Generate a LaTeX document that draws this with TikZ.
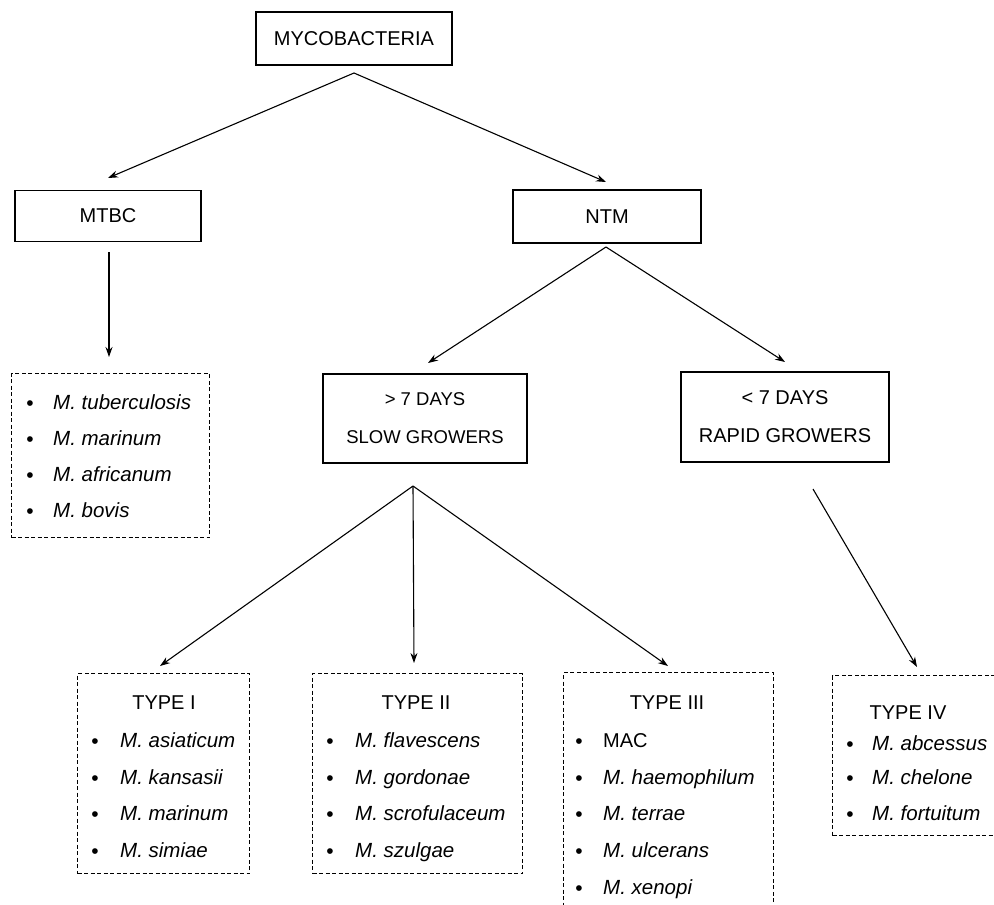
\documentclass[tikz,border=0pt]{standalone}
\usepackage{fontspec}
\setmainfont{Liberation Sans}
\usetikzlibrary{arrows.meta}
\newcommand\itm[5]{%
  \node[dotmark, anchor=base] (#1b) at (#2,#4+8.5) {•};
  \node[itemtext, anchor=base west] (#1) at (#3,#4+7.2) {#5};}
\begin{document}
\begin{tikzpicture}[x=1pt,y=-1pt,
  solidbox/.style={draw, line width=1.3pt, inner sep=0pt, align=center,
    font=\fontsize{20}{38}\selectfont},
  dashbox/.style={draw, line width=1.2pt, dash pattern=on 4pt off 2.5pt, inner sep=0pt},
  lbl/.style={font=\fontsize{20}{24}\selectfont, inner sep=0pt},
  itemtext/.style={font=\fontsize{20.5}{24}\selectfont\itshape, inner sep=0pt},
  dotmark/.style={font=\fontsize{21}{24}\selectfont, inner sep=0pt},
  conn/.style={line width=1.1pt, -{Stealth[length=10pt,width=7pt]}}]
\useasboundingbox (0,0) rectangle (994,905);
\clip (0,0) rectangle (994,905);
\fill[white] (0,0) rectangle (994,905);

% solid boxes
\node[solidbox, minimum width=196pt, minimum height=53pt] (myco) at (354,38.5) {MYCOBACTERIA};
\node[solidbox, minimum width=186pt, minimum height=51pt] (mtbc) at (108,216) {MTBC};
\node[solidbox, minimum width=188pt, minimum height=53pt] (ntm) at (607,216.5) {NTM};
\node[solidbox, minimum width=204pt, minimum height=89pt,
  font=\fontsize{18.5}{38}\selectfont] (slow) at (425,418.5) {> 7 DAYS\\SLOW GROWERS};
\node[solidbox, minimum width=208pt, minimum height=90pt] (rapid) at (785,417) {< 7 DAYS\\RAPID GROWERS};

% dashed boxes
\node[dashbox, minimum width=198pt, minimum height=164pt, anchor=north west] (mtbclist) at (11,373) {};
\node[dashbox, minimum width=172pt, minimum height=200pt, anchor=north west] (t1) at (77,673) {};
\node[dashbox, minimum width=210pt, minimum height=200pt, anchor=north west] (t2) at (312,673) {};
\node[dashbox, minimum width=210pt, minimum height=260pt, anchor=north west] (t3) at (563,672) {};
\node[dashbox, minimum width=180pt, minimum height=160pt, anchor=north west] (t4) at (832,675) {};

% MTBC list
\itm{a1}{30}{53}{402}{M. tuberculosis}
\itm{a2}{30}{53}{438}{M. marinum}
\itm{a3}{30}{53}{474}{M. africanum}
\itm{a4}{30}{53}{510}{M. bovis}

% Type I
\node[lbl] (t1t) at (164,703) {TYPE I};
\itm{b1}{95}{120}{740}{M. asiaticum}
\itm{b2}{95}{120}{777}{M. kansasii}
\itm{b3}{95}{120}{813}{M. marinum}
\itm{b4}{95}{120}{850}{M. simiae}

% Type II
\node[lbl] (t2t) at (416,703) {TYPE II};
\itm{c1}{330}{355}{740}{M. flavescens}
\itm{c2}{330}{355}{777}{M. gordonae}
\itm{c3}{330}{355}{813}{M. scrofulaceum}
\itm{c4}{330}{355}{850}{M. szulgae}

% Type III
\node[lbl] (t3t) at (667,703) {TYPE III};
\node[dotmark, anchor=base] (d1b) at (579,748.5) {•};
\node[lbl, anchor=base west] (d1) at (603,747.2) {MAC};
\itm{d2}{579}{603}{777}{M. haemophilum}
\itm{d3}{579}{603}{813}{M. terrae}
\itm{d4}{579}{603}{850}{M. ulcerans}
\itm{d5}{579}{603}{887}{M. xenopi}

% Type IV
\node[lbl] (t4t) at (908,713) {TYPE IV};
\itm{e1}{850}{872}{743}{M. abcessus}
\itm{e2}{850}{872}{777}{M. chelone}
\itm{e3}{850}{872}{813}{M. fortuitum}

% connector points
\coordinate (mycoA) at (354,73);
\coordinate (mtbcIn) at (108,178);
\coordinate (ntmIn) at (606,182);
\coordinate (mtbcOut) at (109,252);
\coordinate (listIn) at (109,357);
\coordinate (ntmA) at (606,247);
\coordinate (slowIn) at (428,363);
\coordinate (rapidIn) at (785,362);
\coordinate (slowA) at (413,486);
\coordinate (t1In) at (160,666);
\coordinate (t2In) at (414,663);
\coordinate (t3In) at (668,666);
\coordinate (rapidOut) at (813,489);
\coordinate (t4In) at (917,667);

\draw[conn] (mycoA) -- (mtbcIn);
\draw[conn] (mycoA) -- (ntmIn);
\draw[conn] (mtbcOut) -- (listIn);
\draw[conn] (ntmA) -- (slowIn);
\draw[conn] (ntmA) -- (rapidIn);
\draw[conn] (slowA) -- (t1In);
\draw[conn] (slowA) -- (t2In);
\draw[conn] (slowA) -- (t3In);
\draw[conn] (rapidOut) -- (t4In);
\end{tikzpicture}
\end{document}
